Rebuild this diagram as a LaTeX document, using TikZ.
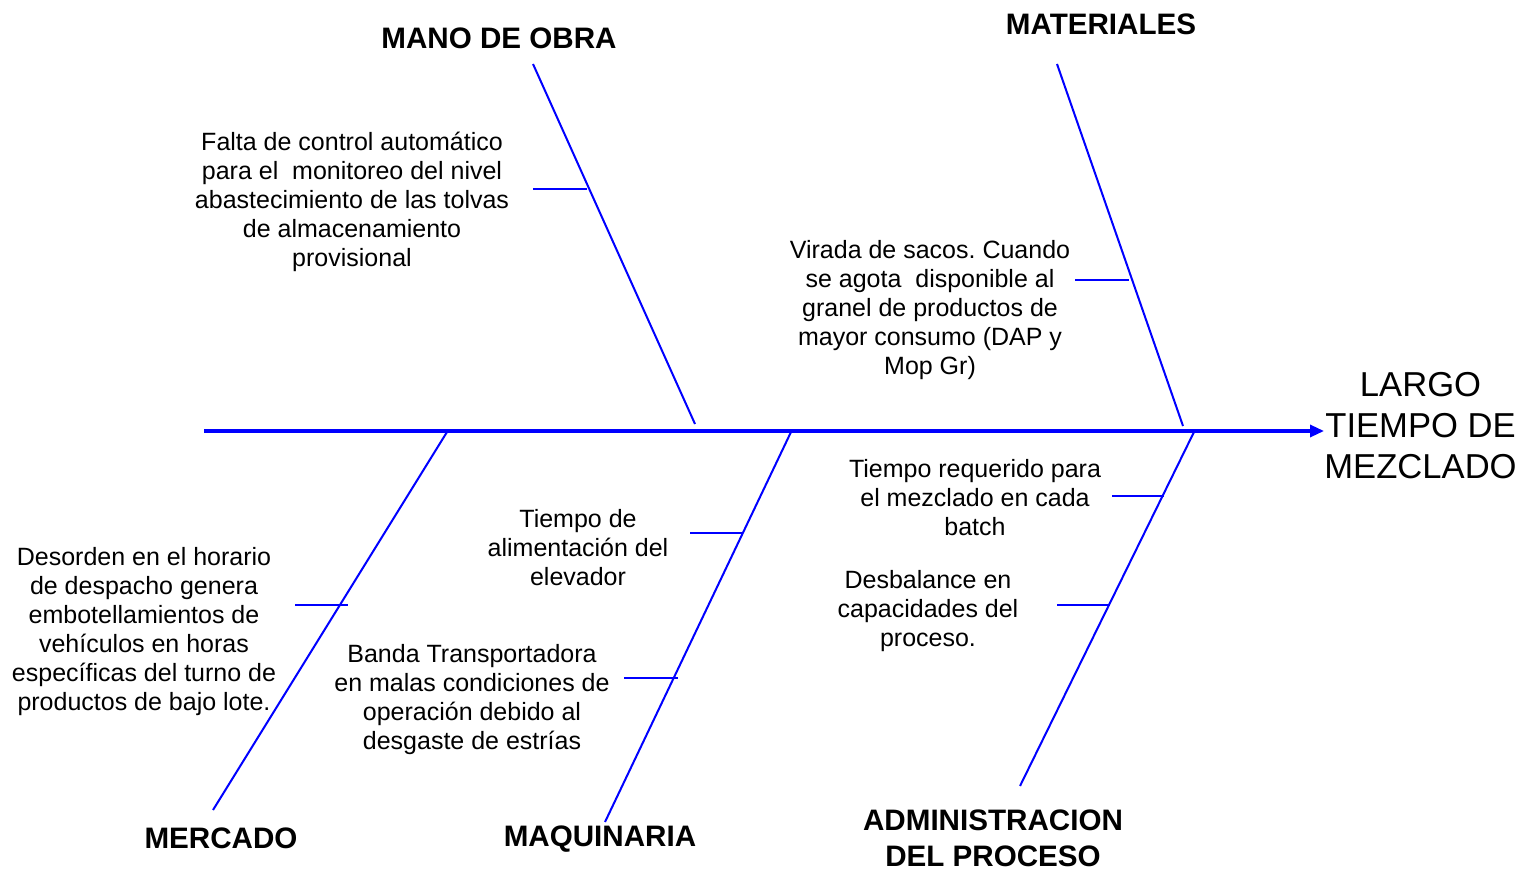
\documentclass[tikz,border=0pt]{standalone}
\usepackage{fontspec}
\setmainfont{Liberation Sans}
\usetikzlibrary{arrows.meta}
\definecolor{boneblue}{RGB}{0,0,255}
\frenchspacing
\begin{document}
\begin{tikzpicture}[x=0.5pt,y=-0.5pt,
  spine/.style={draw=boneblue,line width=1.6pt},
  bone/.style={draw=boneblue,line width=1pt},
  twig/.style={draw=boneblue,line width=0.7pt},
  cause/.style={align=center,font=\fontsize{12.5pt}{14.5pt}\selectfont,inner sep=0pt},
  head/.style={align=center,font=\fontsize{14.8pt}{18pt}\selectfont\bfseries,inner sep=0pt},
  effect/.style={align=center,font=\fontsize{17.3pt}{20.5pt}\selectfont,inner sep=0pt}]
\useasboundingbox (0,0) rectangle (1524,870);
% spine
\coordinate (s0) at (204,431);
\node[effect,anchor=west] (eff) at (1324,426) {LARGO\\TIEMPO DE\\MEZCLADO};
\draw[spine,-{Triangle[length=7pt,width=6pt]}] (s0) -- (eff.west |- s0);
% bones
\coordinate (a1) at (533,64);   \coordinate (a2) at (695,424);
\coordinate (b1) at (1057,64);  \coordinate (b2) at (1183,426);
\coordinate (c1) at (447,432);  \coordinate (c2) at (213,810);
\coordinate (d1) at (791,432);  \coordinate (d2) at (605,822);
\coordinate (e1) at (1194,432); \coordinate (e2) at (1020,786);
\draw[bone] (a1) -- (a2);
\draw[bone] (b1) -- (b2);
\draw[bone] (c1) -- (c2);
\draw[bone] (d1) -- (d2);
\draw[bone] (e1) -- (e2);
% headings
\node[head] (hA) at (499,38) {MANO DE OBRA};
\node[head] (hB) at (1101,24) {MATERIALES};
\node[head] (hC) at (221,838) {MERCADO};
\node[head] (hD) at (600,839) {MAQUINARIA};
\node[head] (hE) at (993,838) {ADMINISTRACION\\DEL PROCESO};
% causes
\node[cause] (t1) at (352,202) {Falta de control automático\\para el\ \ monitoreo del nivel\\abastecimiento de las tolvas\\de almacenamiento\\provisional};
\node[cause] (t2) at (930,310) {Virada de sacos. Cuando\\se agota\ \ disponible al\\granel de productos de\\mayor consumo (DAP y\\Mop Gr)};
\node[cause] (t3) at (975,498) {Tiempo requerido para\\el mezclado en cada\\batch};
\node[cause] (t4) at (928,611) {Desbalance en\\capacidades del\\proceso.};
\node[cause] (t5) at (578,548) {Tiempo de\\alimentación del\\elevador};
\node[cause] (t6) at (472,700) {Banda Transportadora\\en malas condiciones de\\operación debido al\\desgaste de estrías};
\node[cause] (t7) at (144,632) {Desorden en el horario\\de despacho genera\\embotellamientos de\\vehículos en horas\\específicas del turno de\\productos de bajo lote.};
% twigs
\draw[twig] (533,189) -- (587,189);
\draw[twig] (1075,280) -- (1129,280);
\draw[twig] (295,605) -- (348,605);
\draw[twig] (690,533) -- (742,533);
\draw[twig] (624,678) -- (678,678);
\draw[twig] (1112,496) -- (1164,496);
\draw[twig] (1057,605) -- (1110,605);
\end{tikzpicture}
\end{document}
